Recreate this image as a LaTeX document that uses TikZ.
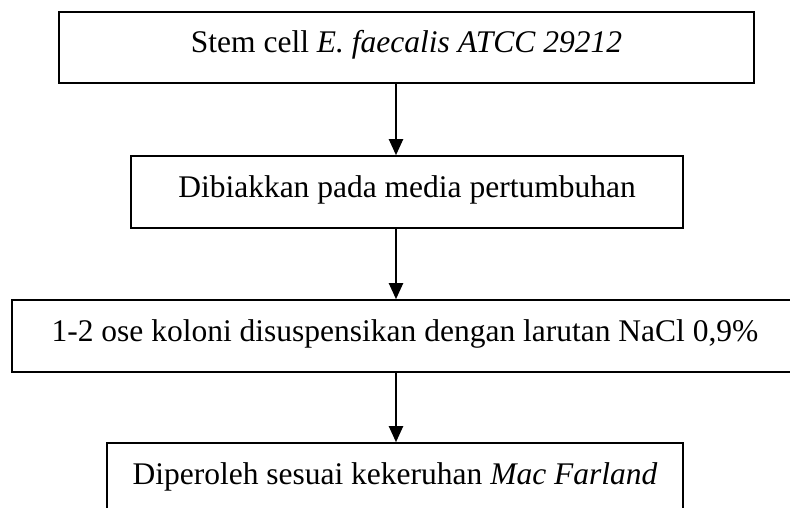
\documentclass[tikz,border=0pt]{standalone}
\usepackage{fontspec}
\setmainfont{Liberation Serif}
\usetikzlibrary{arrows.meta}
\begin{document}
\begin{tikzpicture}[x=1pt,y=-1pt,
  stepbox/.style={draw=black,line width=1.6pt,inner sep=0pt,
    text height=20pt,text depth=9pt,
    font=\fontsize{31.5}{38}\selectfont},
  arr/.style={line width=2pt,-{Triangle[length=16pt,width=14pt]}}]
\useasboundingbox (0,0) rectangle (790,508);
\fill[white] (0,0) rectangle (790,508);
\node[stepbox,minimum width=695pt,minimum height=71pt] (b1) at (406.5,47.5)
  {Stem cell \textit{E. faecalis ATCC 29212}};
\node[stepbox,minimum width=552pt,minimum height=72pt] (b2) at (407,192)
  {Dibiakkan pada media pertumbuhan};
\node[stepbox,minimum width=786pt,minimum height=72pt] (b3) at (405,336)
  {1-2 ose koloni disuspensikan dengan larutan NaCl 0,9\%};
\node[stepbox,minimum width=576pt,minimum height=72pt] (b4) at (395,479)
  {Diperoleh sesuai kekeruhan \textit{Mac Farland}};
\coordinate (ax) at (396,0);
\draw[arr] (b1.south -| ax) -- (b2.north -| ax);
\draw[arr] (b2.south -| ax) -- (b3.north -| ax);
\draw[arr] (b3.south -| ax) -- (b4.north -| ax);
\end{tikzpicture}
\end{document}
